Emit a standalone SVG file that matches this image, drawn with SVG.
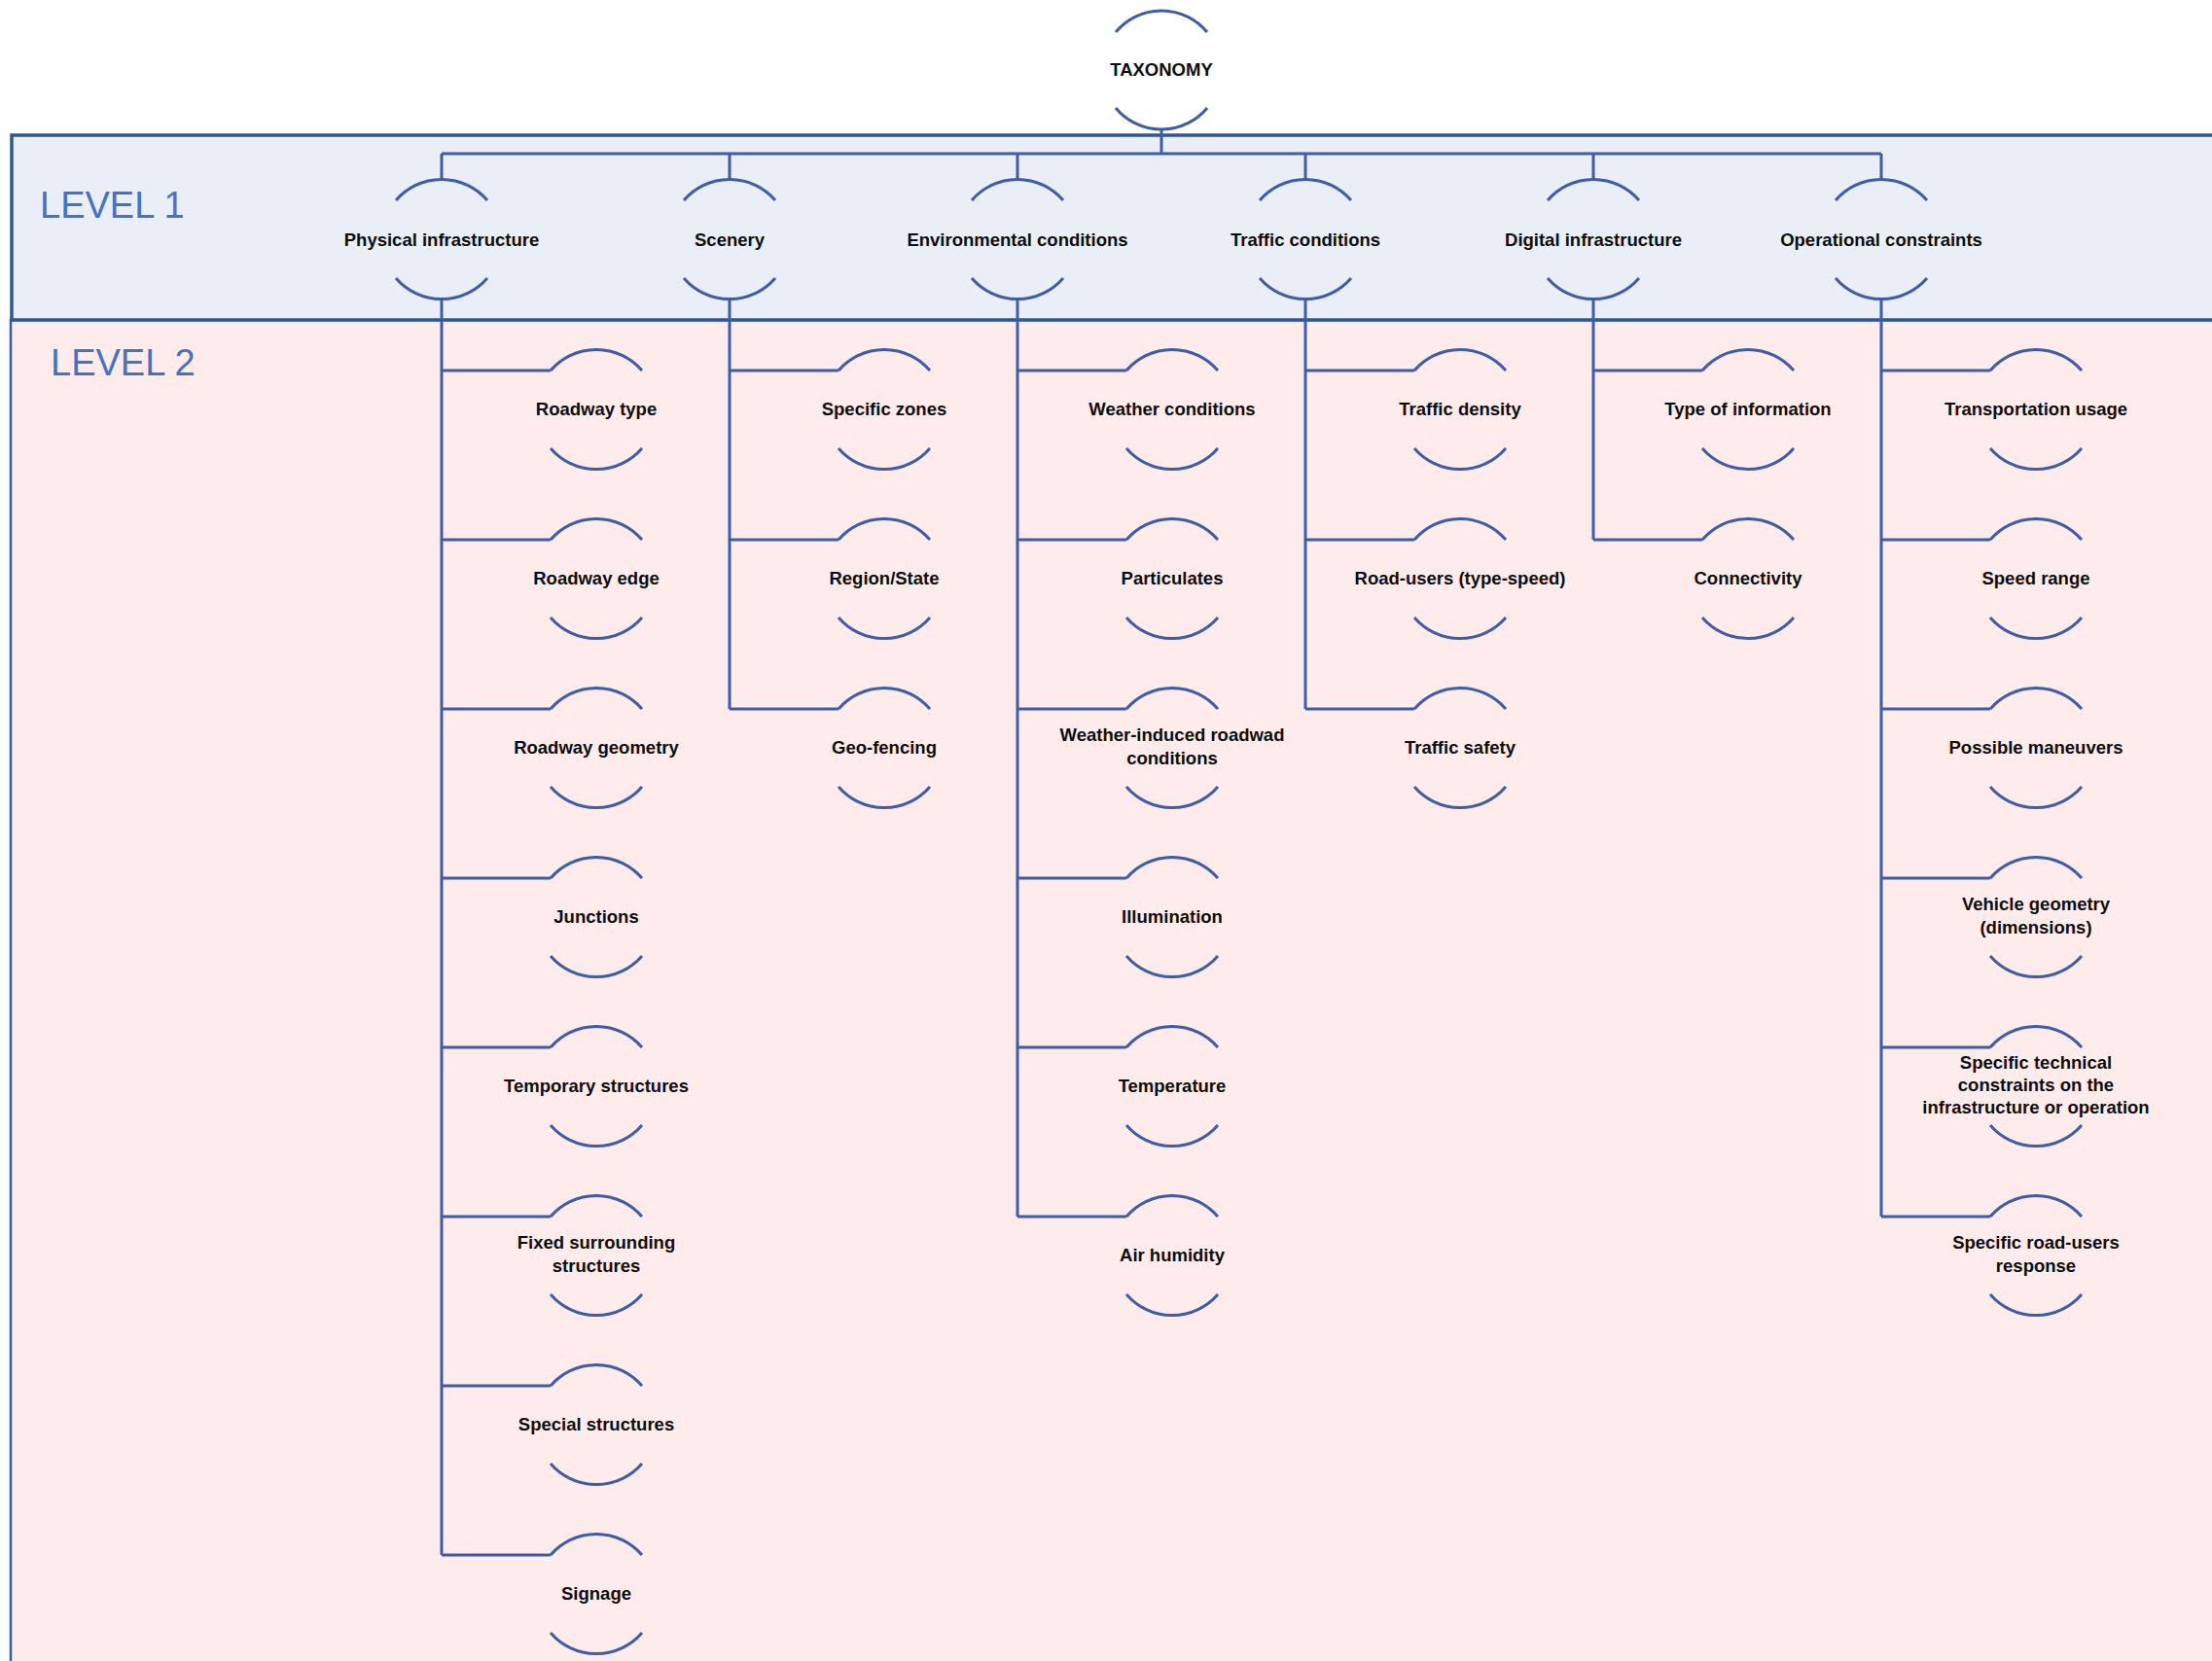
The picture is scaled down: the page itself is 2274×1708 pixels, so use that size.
<svg xmlns="http://www.w3.org/2000/svg" xmlns:xlink="http://www.w3.org/1999/xlink" width="2274" height="1708" viewBox="0 0 2274 1708">
<style>
.lvl2box{fill:#FEEBEC;stroke:#3A5A9C;stroke-width:2.5}
.lvl1box{fill:#E9EEF7;stroke:#2F5597;stroke-width:3.5}
.lvl{font-family:"Liberation Sans",Arial,sans-serif;font-size:38px;fill:#4472C4}
.arc{fill:none;stroke:#3E5DA6;stroke-width:3}
.conn path{fill:none;stroke:#3E5DA6;stroke-width:3}
.lbl{font-family:"Liberation Sans",Arial,sans-serif;font-weight:bold;font-size:18.5px;fill:#0D0D0D;text-anchor:middle}
</style>
<defs>
<g id="shape">
<path class="arc" d="M-47,-40 A62,62 0 0 1 47,-40"/>
<path class="arc" d="M-47,40 A62,62 0 0 0 47,40"/>
</g>
</defs>
<rect width="2274" height="1708" fill="#FFFFFF"/>
<rect class="lvl2box" x="11" y="329" width="2320" height="1420"/>
<rect class="lvl1box" x="12" y="139" width="2320" height="190"/>
<text class="lvl" x="41" y="224">LEVEL 1</text>
<text class="lvl" x="52" y="386">LEVEL 2</text>

<g id="connectors" class="conn">
<path d="M1194,133 V158 M454,158 H1934"/>
<path d="M454,158 V184 M750,158 V184 M1046,158 V184 M1342,158 V184 M1638,158 V184 M1934,158 V184"/>
<path d="M454,308 V1599 M750,308 V729 M1046,308 V1251 M1342,308 V729 M1638,308 V555 M1934,308 V1251"/>
<path d="M454,381 H566 M454,555 H566 M454,729 H566 M454,903 H566 M454,1077 H566 M454,1251 H566 M454,1425 H566 M454,1599 H566"/>
<path d="M750,381 H862 M750,555 H862 M750,729 H862"/>
<path d="M1046,381 H1158 M1046,555 H1158 M1046,729 H1158 M1046,903 H1158 M1046,1077 H1158 M1046,1251 H1158"/>
<path d="M1342,381 H1454 M1342,555 H1454 M1342,729 H1454"/>
<path d="M1638,381 H1750 M1638,555 H1750"/>
<path d="M1934,381 H2046 M1934,555 H2046 M1934,729 H2046 M1934,903 H2046 M1934,1077 H2046 M1934,1251 H2046"/>
</g>

<g id="taxonomy"><path class="arc" d="M1147,33 A61,61 0 0 1 1241,33"/><path class="arc" d="M1147,111 A61,61 0 0 0 1241,111"/><text class="lbl" x="1194" y="78">TAXONOMY</text></g>

<g id="physical-infrastructure"><use href="#shape" x="454" y="246"/><text class="lbl" x="454" y="253">Physical infrastructure</text></g>
<g id="scenery"><use href="#shape" x="750" y="246"/><text class="lbl" x="750" y="253">Scenery</text></g>
<g id="environmental-conditions"><use href="#shape" x="1046" y="246"/><text class="lbl" x="1046" y="253">Environmental conditions</text></g>
<g id="traffic-conditions"><use href="#shape" x="1342" y="246"/><text class="lbl" x="1342" y="253">Traffic conditions</text></g>
<g id="digital-infrastructure"><use href="#shape" x="1638" y="246"/><text class="lbl" x="1638" y="253">Digital infrastructure</text></g>
<g id="operational-constraints"><use href="#shape" x="1934" y="246"/><text class="lbl" x="1934" y="253">Operational constraints</text></g>

<g id="roadway-type"><use href="#shape" x="613" y="421"/><text class="lbl" x="613" y="427">Roadway type</text></g>
<g id="roadway-edge"><use href="#shape" x="613" y="595"/><text class="lbl" x="613" y="601">Roadway edge</text></g>
<g id="roadway-geometry"><use href="#shape" x="613" y="769"/><text class="lbl" x="613" y="775">Roadway geometry</text></g>
<g id="junctions"><use href="#shape" x="613" y="943"/><text class="lbl" x="613" y="949">Junctions</text></g>
<g id="temporary-structures"><use href="#shape" x="613" y="1117"/><text class="lbl" x="613" y="1123">Temporary structures</text></g>
<g id="fixed-surrounding-structures"><use href="#shape" x="613" y="1291"/><text class="lbl" x="613" y="1284">Fixed surrounding</text><text class="lbl" x="613" y="1308">structures</text></g>
<g id="special-structures"><use href="#shape" x="613" y="1465"/><text class="lbl" x="613" y="1471">Special structures</text></g>
<g id="signage"><use href="#shape" x="613" y="1639"/><text class="lbl" x="613" y="1645">Signage</text></g>

<g id="specific-zones"><use href="#shape" x="909" y="421"/><text class="lbl" x="909" y="427">Specific zones</text></g>
<g id="region-state"><use href="#shape" x="909" y="595"/><text class="lbl" x="909" y="601">Region/State</text></g>
<g id="geo-fencing"><use href="#shape" x="909" y="769"/><text class="lbl" x="909" y="775">Geo-fencing</text></g>

<g id="weather-conditions"><use href="#shape" x="1205" y="421"/><text class="lbl" x="1205" y="427">Weather conditions</text></g>
<g id="particulates"><use href="#shape" x="1205" y="595"/><text class="lbl" x="1205" y="601">Particulates</text></g>
<g id="weather-induced"><use href="#shape" x="1205" y="769"/><text class="lbl" x="1205" y="762">Weather-induced roadwad</text><text class="lbl" x="1205" y="786">conditions</text></g>
<g id="illumination"><use href="#shape" x="1205" y="943"/><text class="lbl" x="1205" y="949">Illumination</text></g>
<g id="temperature"><use href="#shape" x="1205" y="1117"/><text class="lbl" x="1205" y="1123">Temperature</text></g>
<g id="air-humidity"><use href="#shape" x="1205" y="1291"/><text class="lbl" x="1205" y="1297">Air humidity</text></g>

<g id="traffic-density"><use href="#shape" x="1501" y="421"/><text class="lbl" x="1501" y="427">Traffic density</text></g>
<g id="road-users"><use href="#shape" x="1501" y="595"/><text class="lbl" x="1501" y="601">Road-users (type-speed)</text></g>
<g id="traffic-safety"><use href="#shape" x="1501" y="769"/><text class="lbl" x="1501" y="775">Traffic safety</text></g>

<g id="type-of-information"><use href="#shape" x="1797" y="421"/><text class="lbl" x="1797" y="427">Type of information</text></g>
<g id="connectivity"><use href="#shape" x="1797" y="595"/><text class="lbl" x="1797" y="601">Connectivity</text></g>

<g id="transportation-usage"><use href="#shape" x="2093" y="421"/><text class="lbl" x="2093" y="427">Transportation usage</text></g>
<g id="speed-range"><use href="#shape" x="2093" y="595"/><text class="lbl" x="2093" y="601">Speed range</text></g>
<g id="possible-maneuvers"><use href="#shape" x="2093" y="769"/><text class="lbl" x="2093" y="775">Possible maneuvers</text></g>
<g id="vehicle-geometry"><use href="#shape" x="2093" y="943"/><text class="lbl" x="2093" y="936">Vehicle geometry</text><text class="lbl" x="2093" y="960">(dimensions)</text></g>
<g id="specific-technical-constraints"><use href="#shape" x="2093" y="1117"/><text class="lbl" x="2093" y="1099">Specific technical</text><text class="lbl" x="2093" y="1122">constraints on the</text><text class="lbl" x="2093" y="1145">infrastructure or operation</text></g>
<g id="specific-road-users-response"><use href="#shape" x="2093" y="1291"/><text class="lbl" x="2093" y="1284">Specific road-users</text><text class="lbl" x="2093" y="1308">response</text></g>
</svg>
